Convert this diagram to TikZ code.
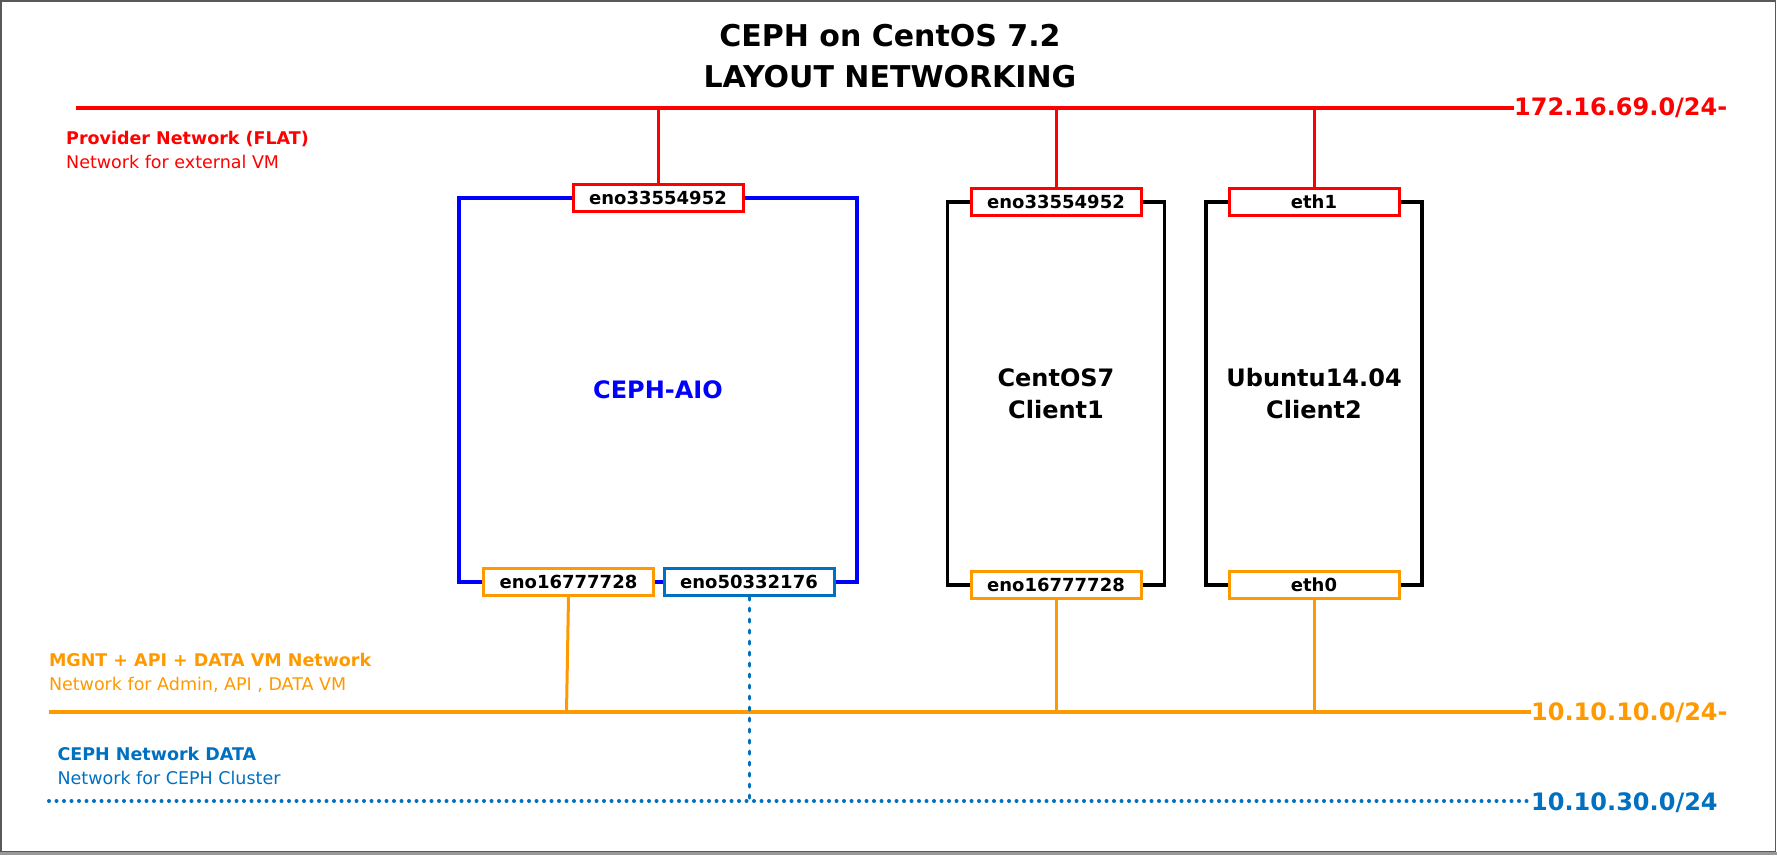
\documentclass[tikz,border=0pt]{standalone}
\usepackage{fontspec}
\setmainfont{DejaVu Sans}
\usetikzlibrary{positioning}

\definecolor{provRed}{RGB}{255,0,0}
\definecolor{mgntOrange}{RGB}{255,153,0}
\definecolor{dataBlue}{RGB}{0,112,192}
\definecolor{aioBlue}{RGB}{0,0,255}

\def \netWidth {3.5pt}
\def \linkWidth {3pt}

\tikzset{
   host/.style={draw, line width=\netWidth, outer sep=0pt, minimum height=383pt, align=center, font=\bfseries\fontsize{24}{31.6}\selectfont},
   iface/.style={draw, fill=white, line width=\linkWidth, minimum width=170pt, minimum height=27pt, inner sep=0pt, font=\bfseries\fontsize{18}{20}\selectfont},
   netname/.style={anchor=base west, inner sep=0pt, font=\bfseries\fontsize{24}{30}\selectfont},
   netinfo/.style={anchor=base west, inner sep=0pt, align=left, font=\fontsize{17.5}{24}\selectfont}
}

\begin{document}
\begin{tikzpicture}[x=1pt, y=-1pt]
         \useasboundingbox (0,0) rectangle (1777,855);
         \draw[black!65, line width=1.5pt] (0.75,0.75) rectangle (1775.5,852);
         \draw[gray!80, line width=3pt] (0,853.5) -- (1777,853.5);
         \node[anchor=base, align=center, font=\bfseries\fontsize{30}{40.5}\selectfont] (title) at (890,87.2) {CEPH on CentOS 7.2\\LAYOUT NETWORKING};

         \coordinate (provStart) at (76,108);
         \coordinate (mgntStart) at (49,712);
         \coordinate (dataStart) at (49,801);
         \node[netname, text=provRed] (provNet) at (1514,115) {172.16.69.0/24-};
         \node[netname, text=mgntOrange] (mgntNet) at (1531,720) {10.10.10.0/24-};
         \node[netname, text=dataBlue] (dataNet) at (1531,810) {10.10.30.0/24};
         \draw[provRed, line width=\netWidth] (provStart) -- (provStart -| provNet.west);
         \draw[mgntOrange, line width=\netWidth] (mgntStart) -- (mgntStart -| mgntNet.west);
         \draw[dataBlue, line width=4pt, dash pattern=on 0pt off 7.5pt, line cap=round] (dataStart) -- (dataStart -| dataNet.west);

         \node[netinfo, text=provRed] (provInfo) at (66,168.3) {\textbf{Provider Network (FLAT)}\\Network for external VM};
         \node[netinfo, text=mgntOrange] (mgntInfo) at (48.8,690) {\textbf{MGNT + API + DATA VM Network}\\Network for Admin, API , DATA VM};
         \node[netinfo, text=dataBlue] (dataInfo) at (57.4,784) {\textbf{CEPH Network DATA}\\Network for CEPH Cluster};

         \node[host, draw=aioBlue, text=aioBlue, minimum width=398pt, minimum height=384pt] (aio) at (658,390) {CEPH-AIO};
         \node[host, minimum width=217pt] (clientOne) at (1056,393.5) {CentOS7\\Client1};
         \node[host, minimum width=216pt] (clientTwo) at (1314,393.5) {Ubuntu14.04\\Client2};

         \node[iface, draw=provRed] (aioProv) at (aio.north) {eno33554952};
         \node[iface, draw=mgntOrange] (aioMgnt) at ([xshift=-89.5pt]aio.south) {eno16777728};
         \node[iface, draw=dataBlue] (aioData) at ([xshift=91pt]aio.south) {eno50332176};
         \node[iface, draw=provRed] (oneProv) at (clientOne.north) {eno33554952};
         \node[iface, draw=mgntOrange] (oneMgnt) at (clientOne.south) {eno16777728};
         \node[iface, draw=provRed] (twoProv) at (clientTwo.north) {eth1};
         \node[iface, draw=mgntOrange] (twoMgnt) at (clientTwo.south) {eth0};

         \draw[provRed, line width=\linkWidth] (aioProv.north) -- (aioProv.north |- provStart);
         \draw[provRed, line width=\linkWidth] (oneProv.north) -- (oneProv.north |- provStart);
         \draw[provRed, line width=\linkWidth] (twoProv.north) -- (twoProv.north |- provStart);
         \draw[mgntOrange, line width=\linkWidth] (aioMgnt.south) -- ([xshift=-2pt]aioMgnt.south |- mgntStart);
         \draw[mgntOrange, line width=\linkWidth] (oneMgnt.south) -- (oneMgnt.south |- mgntStart);
         \draw[mgntOrange, line width=\linkWidth] (twoMgnt.south) -- (twoMgnt.south |- mgntStart);
         \draw[dataBlue, line width=\linkWidth, dash pattern=on 3pt off 8pt, line cap=round] (aioData.south) -- (aioData.south |- dataStart);
\end{tikzpicture}
\end{document}
